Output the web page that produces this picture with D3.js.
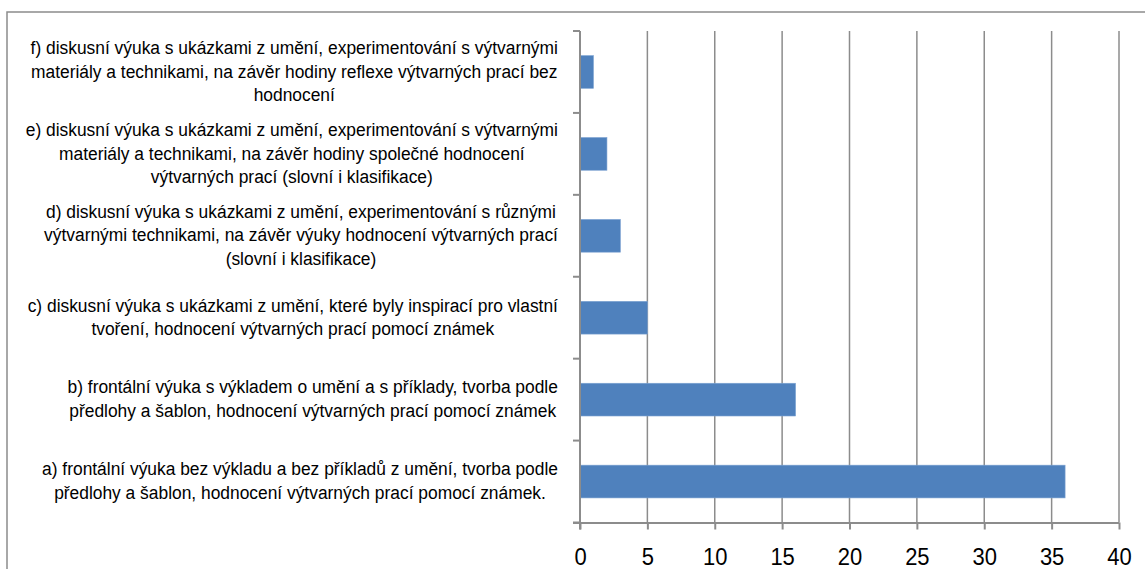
<!DOCTYPE html>
<html>
<head>
<meta charset="utf-8">
<script src="https://cdn.jsdelivr.net/npm/d3@7"></script>
<style>
  body { margin: 0; background: #fff; }
  svg { display: block; }
  .grid line { stroke: #8c8c8c; stroke-width: 1.5; }
  .axis path, .axis line { stroke: #8c8c8c; stroke-width: 2; }
</style>
</head>
<body>
<svg id="chart"></svg>
<script>
// categories, top to bottom, already wrapped as in the picture
const categories = ['f', 'e', 'd', 'c', 'b', 'a']
const labelLines = [
  ['f) diskusní výuka s ukázkami z umění, experimentování s výtvarnými',
   'materiály a technikami, na závěr hodiny reflexe výtvarných prací bez',
   'hodnocení'],
  ['e) diskusní výuka s ukázkami z umění, experimentování s výtvarnými',
   'materiály a technikami, na závěr hodiny společné hodnocení',
   'výtvarných prací (slovní i klasifikace)'],
  ['d) diskusní výuka s ukázkami z umění, experimentování s různými',
   'výtvarnými technikami, na závěr výuky hodnocení výtvarných prací',
   '(slovní i klasifikace)'],
  ['c) diskusní výuka s ukázkami z umění, které byly inspirací pro vlastní',
   'tvoření, hodnocení výtvarných prací pomocí známek'],
  ['b) frontální výuka s výkladem o umění a s příklady, tvorba podle',
   'předlohy a šablon, hodnocení výtvarných prací pomocí známek'],
  ['a) frontální výuka bez výkladu a bez příkladů z umění, tvorba podle',
   'předlohy a šablon, hodnocení výtvarných prací pomocí známek.']
]
const values = [1, 2, 3, 5, 16, 36]
const xTicks = [0, 5, 10, 15, 20, 25, 30, 35, 40]

const width = 1145
const height = 569
const margin = { top: 31, right: 26, bottom: 46.5, left: 580 }
const w = width - margin.left - margin.right
const h = height - margin.top - margin.bottom
// the source text is slightly condensed
const squeeze = 0.915
const labelRight = 558
const lineGap = 23.7

const svg = d3.select('#chart')
  .attr('width', width)
  .attr('height', height)

// outer frame (runs off the right and bottom edge)
svg.append('rect')
  .attr('x', 7).attr('y', 12)
  .attr('width', width).attr('height', height)
  .attr('fill', 'none')
  .attr('stroke', '#8c8c8c')
  .attr('stroke-width', 1.5)

const chart = svg.append('g')
  .attr('transform', `translate(${margin.left}, ${margin.top})`)

const x = d3.scaleLinear()
  .domain([0, 40])
  .range([0, w])

const y = d3.scaleBand()
  .domain(categories)
  .range([0, h])
  .paddingInner(0.6)
  .paddingOuter(0.3)

// vertical gridlines
chart.append('g')
  .attr('class', 'grid')
  .selectAll('line')
  .data(xTicks.slice(1))
  .enter()
  .append('line')
  .attr('x1', d => x(d))
  .attr('x2', d => x(d))
  .attr('y1', 0)
  .attr('y2', h)

// bars
chart.selectAll('.bar')
  .data(values)
  .enter()
  .append('rect')
  .attr('class', 'bar')
  .attr('x', x(0))
  .attr('y', (d, i) => y(categories[i]))
  .attr('width', d => x(d) - x(0))
  .attr('height', y.bandwidth())
  .attr('fill', '#4f81bd')
  .attr('stroke', '#7fa4d2')
  .attr('stroke-width', 0.6)

// x axis
const xAxis = d3.axisBottom(x)
  .tickValues(xTicks)
  .tickSize(7)
  .tickSizeOuter(0)

const gx = chart.append('g')
  .attr('class', 'x axis')
  .attr('transform', `translate(0, ${h})`)
  .call(xAxis)
gx.select('.domain').attr('d', `M-7,0.5H${w}`)
gx.selectAll('text')
  .attr('font-family', 'Liberation Sans, Arial, sans-serif')
  .attr('font-size', 24)
  .attr('fill', '#000')
  .attr('dy', 0)
  .attr('y', 0)
  .attr('transform', `translate(0, 42) scale(${squeeze}, 1)`)

// y axis line with ticks on category boundaries
const bounds = categories.map(c => y(c) - y.step() * y.paddingInner() / 2)
bounds.push(h)
const gy = chart.append('g').attr('class', 'y axis')
gy.append('path').attr('d', `M0,0V${h + 7}`)
gy.selectAll('line')
  .data(bounds)
  .enter()
  .append('line')
  .attr('x1', -7)
  .attr('x2', 0)
  .attr('y1', d => d)
  .attr('y2', d => d)

// category labels, each block centred and pushed against the axis
const labels = svg.append('g')
  .attr('font-family', 'Liberation Sans, Arial, sans-serif')
  .attr('font-size', 19)
  .attr('fill', '#000')

categories.forEach((c, i) => {
  const lines = labelLines[i]
  const mid = margin.top + y(c) + y.bandwidth() / 2
  const first = mid - (lines.length - 1) * lineGap / 2 + 5.7
  const g = labels.append('g')
  const texts = lines.map((t, k) => g.append('text')
    .attr('text-anchor', 'middle')
    .text(t)
    .datum(first + k * lineGap))
  const maxW = d3.max(texts, t => t.node().getComputedTextLength()) * squeeze
  const cx = labelRight - maxW / 2
  texts.forEach(t => t.attr('transform', d => `translate(${cx}, ${d}) scale(${squeeze}, 1)`))
})
</script>
</body>
</html>
